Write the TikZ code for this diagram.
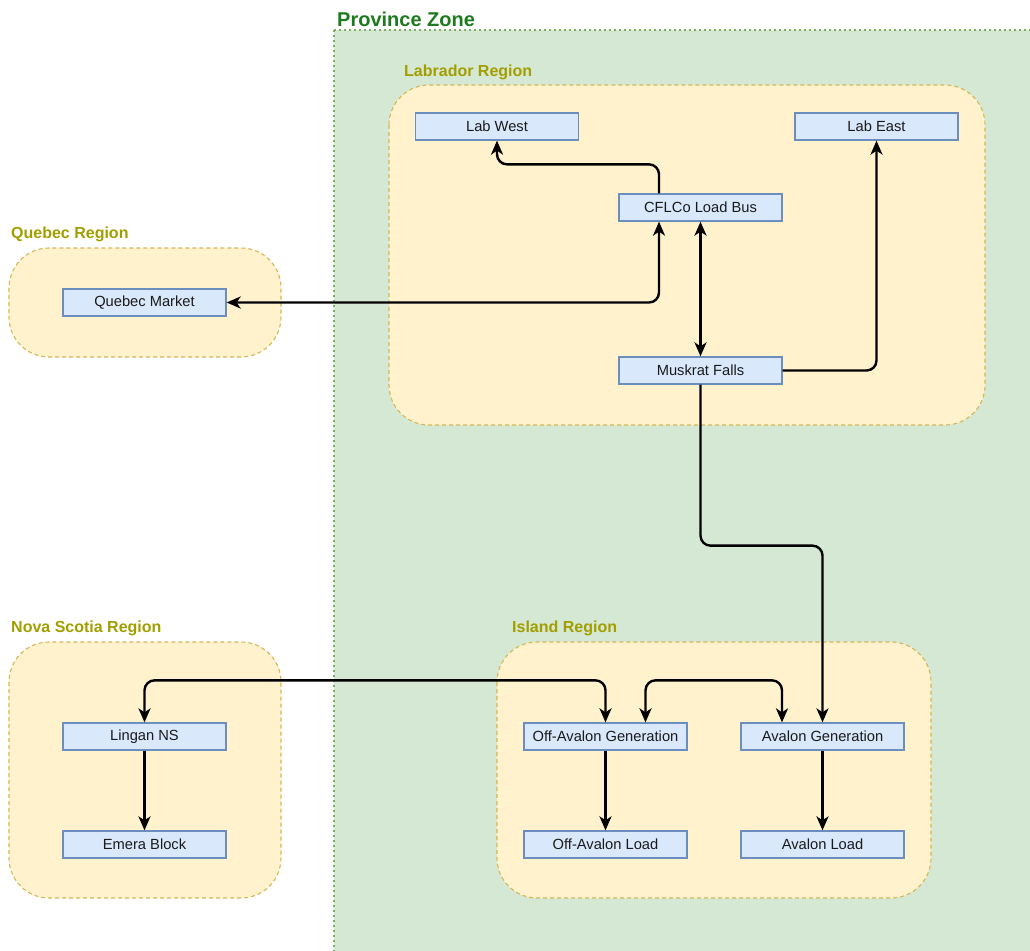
\documentclass[tikz,border=0pt]{standalone}
\usepackage{fontspec}
\setmainfont{Liberation Sans}
\usetikzlibrary{arrows.meta}
\definecolor{zonefill}{HTML}{D5E8D4}
\definecolor{zoneline}{HTML}{7AAE5E}
\definecolor{zonetext}{HTML}{1E7A1E}
\definecolor{regfill}{HTML}{FFF2CC}
\definecolor{regline}{HTML}{D6B656}
\definecolor{regtext}{HTML}{A39E00}
\definecolor{boxfill}{HTML}{DAE8FC}
\definecolor{boxline}{HTML}{6C8EBF}
\definecolor{boxtext}{HTML}{1A1A1A}
\tikzset{
  zonebox/.style={fill=zonefill, draw=zoneline, line width=2pt, dash pattern=on 2pt off 3pt},
  regbox/.style={fill=regfill, draw=regline, line width=1.1pt, dash pattern=on 4pt off 3pt, rounded corners=40pt},
  zonelabel/.style={anchor=west, inner sep=0pt, text=zonetext, font=\fontsize{20}{24}\selectfont\bfseries},
  reglabel/.style={anchor=west, inner sep=0pt, text=regtext, font=\fontsize{16}{19}\selectfont\bfseries},
  unit/.style={draw=boxline, fill=boxfill, line width=1.3pt, minimum width=163pt, minimum height=27pt, inner sep=0pt, text=boxtext, font=\fontsize{14.7}{17}\selectfont},
  link/.style={draw=black, line width=2.4pt, rounded corners=10pt},
  oneway/.style={link,-{Stealth[length=14pt,width=12pt,inset=4pt]}},
  twoway/.style={link,{Stealth[length=14pt,width=12pt,inset=4pt]}-{Stealth[length=14pt,width=12pt,inset=4pt]}}
}
\begin{document}
\begin{tikzpicture}[x=1pt,y=-1pt]
\useasboundingbox (0,0) rectangle (1030,950);
% zone
\path[zonebox] (334,30) rectangle (1040,960);
\node[zonelabel] (zl) at (337,19) {Province Zone};
% regions
\path[regbox] (389,85) rectangle (985,425);
\node[reglabel] (labl) at (404,72) {Labrador Region};
\path[regbox] (9,248) rectangle (281,357);
\node[reglabel] (qbl) at (11,234) {Quebec Region};
\path[regbox] (9,642) rectangle (281,898);
\node[reglabel] (nsl) at (11,628) {Nova Scotia Region};
\path[regbox] (497,642) rectangle (931,898);
\node[reglabel] (isl) at (512,628) {Island Region};
% units
\node[unit] (labwest) at (497,126.5) {Lab West};
\node[unit] (labeast) at (876.5,126.5) {Lab East};
\node[unit] (cflco) at (700.5,207.5) {CFLCo Load Bus};
\node[unit] (quebec) at (144.5,302.5) {Quebec Market};
\node[unit] (muskrat) at (700.5,370.5) {Muskrat Falls};
\node[unit] (lingan) at (144.5,736.5) {Lingan NS};
\node[unit] (emera) at (144.5,844.5) {Emera Block};
\node[unit] (offgen) at (605.5,736.5) {Off-Avalon Generation};
\node[unit] (avgen) at (822.5,736.5) {Avalon Generation};
\node[unit] (offload) at (605.5,844.5) {Off-Avalon Load};
\node[unit] (avload) at (822.5,844.5) {Avalon Load};
% links
\draw[oneway] ([xshift=-41.5pt]cflco.north) -- ++(0,-29) -| (labwest.south);
\draw[twoway] (quebec.east) -| ([xshift=-41.5pt]cflco.south);
\draw[twoway] (cflco.south) -- (muskrat.north);
\draw[oneway] (muskrat.east) -| (labeast.south);
\draw[oneway] (muskrat.south) -- ++(0,161) -| (avgen.north);
\draw[twoway] (lingan.north) -- ++(0,-42) -| (offgen.north);
\draw[twoway] ([xshift=40pt]offgen.north) -- ++(0,-42) -| ([xshift=-40.5pt]avgen.north);
\draw[oneway] (lingan.south) -- (emera.north);
\draw[oneway] (offgen.south) -- (offload.north);
\draw[oneway] (avgen.south) -- (avload.north);
\end{tikzpicture}
\end{document}
